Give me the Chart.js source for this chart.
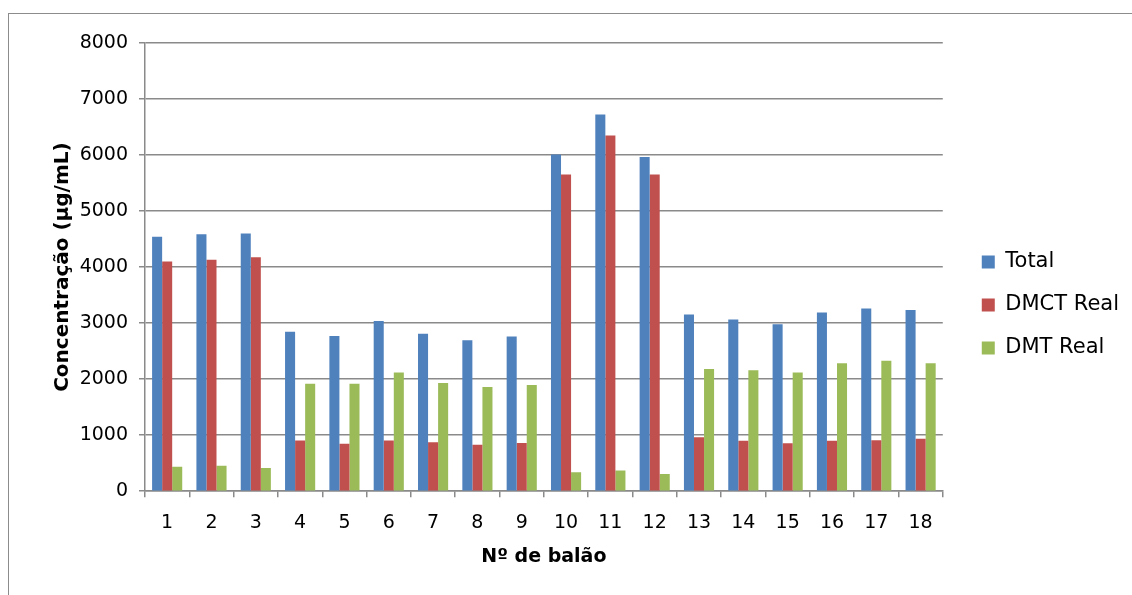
<!DOCTYPE html>
<html>
<head>
<meta charset="utf-8">
<script src="https://cdn.jsdelivr.net/npm/chart.js@4.4.0/dist/chart.umd.min.js"></script>
<style>
  html, body { margin: 0; padding: 0; background: #fff; overflow: hidden; }
  #frame { position: absolute; left: 8px; top: 13px; width: 1130px; height: 600px; border: 1px solid #8c8c8c; }
  #wrap { position: absolute; left: 0; top: 0; width: 1132px; height: 595px; }
</style>
</head>
<body>
<div id="frame"></div>
<div id="wrap"><canvas id="myChart"></canvas></div>
<script>
// values
var balaoLabels = ['1','2','3','4','5','6','7','8','9','10','11','12','13','14','15','16','17','18'];
var totalVals = [4540, 4585, 4600, 2845, 2770, 3040, 2810, 2695, 2760, 6010, 6725, 5965, 3155, 3065, 2980, 3190, 3260, 3235];
var dmctVals  = [4100, 4130, 4175, 905, 845, 905, 875, 830, 860, 5655, 6350, 5655, 965, 900, 855, 900, 910, 935];
var dmtVals   = [435, 455, 415, 1920, 1920, 2120, 1930, 1860, 1895, 340, 370, 305, 2180, 2160, 2120, 2285, 2330, 2285];

var fontFam = "'DejaVu Sans', sans-serif";
var gridCol = '#8a8a8a';

// legend sits a bit further from the plot than chart.js puts it
const legendShift = {
    id: 'legendShift',
    afterLayout(chart) {
        chart.legend.left += 17;
        chart.legend.right += 17;
    }
};

var data = {
    labels: balaoLabels,
    datasets: [
        { label: 'Total', data: totalVals, backgroundColor: '#4F81BD' },
        { label: 'DMCT Real', data: dmctVals, backgroundColor: '#C0504D' },
        { label: 'DMT Real', data: dmtVals, backgroundColor: '#9BBB59' }
    ]
};

const config = {
    type: 'bar',
    data: data,
    plugins: [legendShift],
    options: {
        responsive: true,
        maintainAspectRatio: false,
        animation: false,
        datasets: { bar: { categoryPercentage: 0.68, barPercentage: 1.0 } },
        layout: { padding: { left: 51, right: 20, top: 43, bottom: 28 } },
        plugins: {
            tooltip: { enabled: false },
            legend: {
                position: 'right',
                labels: {
                    boxWidth: 13, boxHeight: 13, padding: 22,
                    color: '#000', font: { family: fontFam, size: 21 }
                }
            }
        },
        scales: {
            x: {
                offset: true,
                grid: { offset: true, drawOnChartArea: false, drawTicks: true, tickLength: 6, color: gridCol, lineWidth: 1.5 },
                border: { color: gridCol, width: 1.5 },
                ticks: { color: '#000', font: { family: fontFam, size: 19 }, padding: 14, maxRotation: 0 },
                title: { display: true, text: 'Nº de balão', color: '#000', font: { family: fontFam, size: 19, weight: 'bold', lineHeight: 1.0 }, padding: 0 }
            },
            y: {
                min: 0, max: 8000,
                afterFit: function (scale) { scale.width = 94; },
                ticks: {
                    stepSize: 1000, color: '#000', font: { family: fontFam, size: 19 }, padding: 11,
                    callback: function (v) { return String(v); }
                },
                grid: { color: gridCol, lineWidth: 1.5, tickLength: 6 },
                border: { color: gridCol, width: 1.5 },
                title: { display: true, text: 'Concentração (µg/mL)', color: '#000', font: { family: fontFam, size: 20, weight: 'bold' }, padding: 0 }
            }
        }
    }
};

var ctx = document.getElementById('myChart').getContext('2d');
const chart = new Chart(ctx, config);
</script>
</body>
</html>
